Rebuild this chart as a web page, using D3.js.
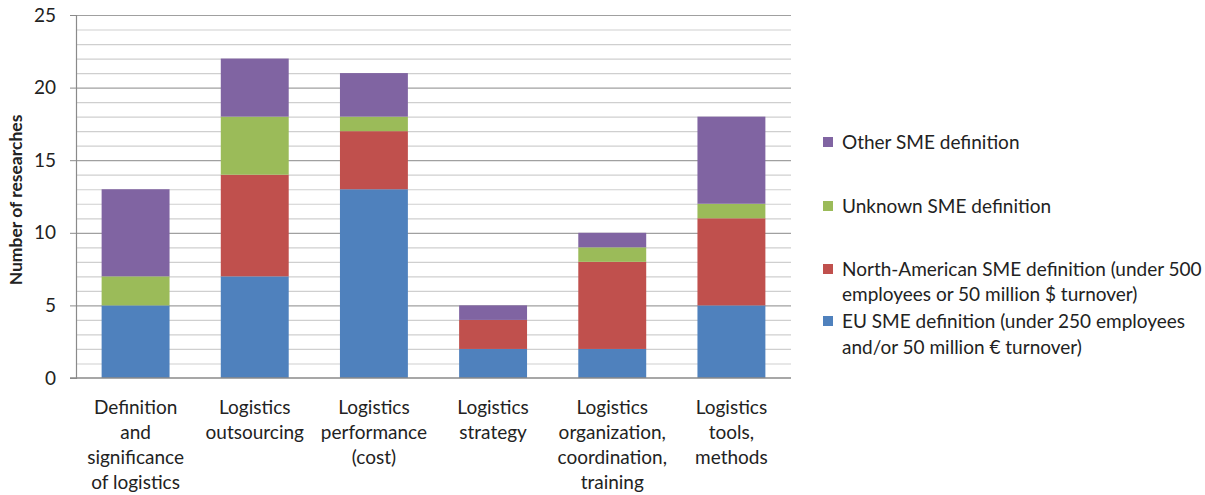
<!DOCTYPE html>
<html>
<head>
<meta charset="utf-8">
<script src="https://cdn.jsdelivr.net/npm/d3@7"></script>
<style>
  body { margin: 0; background: #fff; }
  text { font-family: Lato, "Open Sans", sans-serif; fill: #222; }
</style>
</head>
<body>
<svg id="chart" width="1205" height="495"></svg>
<script>
const categories = [
  ["Definition", "and", "significance", "of logistics"],
  ["Logistics", "outsourcing"],
  ["Logistics", "performance", "(cost)"],
  ["Logistics", "strategy"],
  ["Logistics", "organization,", "coordination,", "training"],
  ["Logistics", "tools,", "methods"]
];
const euValues      = [5, 7, 13, 2, 2, 5];
const naValues      = [0, 7, 4, 2, 6, 6];
const unknownValues = [2, 4, 1, 0, 1, 1];
const otherValues   = [6, 4, 3, 1, 1, 6];
const seriesNames = [
  ["EU SME definition (under  250 employees", "and/or 50 million € turnover)"],
  ["North-American SME definition (under 500", "employees or 50 million $ turnover)"],
  ["Unknown SME definition"],
  ["Other SME definition"]
];
const yTicks = [0, 5, 10, 15, 20, 25];

const colors = ["#4F81BD", "#C0504D", "#9BBB59", "#8064A2"];

const svg = d3.select('#chart');

const plotLeft = 76, plotRight = 791, plotTop = 15, plotBottom = 378;

const rows = categories.map((c, i) => ({
  i: i, eu: euValues[i], na: naValues[i], unk: unknownValues[i], oth: otherValues[i]
}));
const keys = ["eu", "na", "unk", "oth"];
const stacked = d3.stack().keys(keys)(rows);

const x = d3.scaleBand()
  .domain(d3.range(categories.length))
  .range([plotLeft, plotRight])
  .paddingInner(0.43)
  .paddingOuter(0.215);

const y = d3.scaleLinear().domain([0, 25]).range([plotBottom, plotTop]);

// gridlines, one per unit, darker every 5
svg.append('g')
  .selectAll('line')
  .data(d3.range(1, 26))
  .join('line')
  .attr('x1', plotLeft).attr('x2', plotRight)
  .attr('y1', d => y(d) + 0.5).attr('y2', d => y(d) + 0.5)
  .attr('stroke', d => d % 5 === 0 ? '#a0a0a0' : '#cfcfcf')
  .attr('stroke-width', 1.2);

// bars
svg.append('g')
  .selectAll('g')
  .data(stacked)
  .join('g')
  .attr('fill', (d, i) => colors[i])
  .selectAll('rect')
  .data(d => d)
  .join('rect')
  .attr('x', d => x(d.data.i))
  .attr('width', x.bandwidth())
  .attr('y', d => y(d[1]))
  .attr('height', d => y(d[0]) - y(d[1]));

// axes
const yAxis = svg.append('g')
  .attr('transform', `translate(${plotLeft},0)`)
  .call(d3.axisLeft(y).tickValues(yTicks).tickSize(6).tickPadding(14));
yAxis.select('.domain').attr('stroke', '#8a8a8a').attr('stroke-width', 1.2);
yAxis.selectAll('.tick line').attr('stroke', '#8a8a8a');
yAxis.selectAll('.tick text')
  .style('font-size', '19px')
  .style('font-family', 'Lato, "Open Sans", sans-serif')
  .attr('fill', '#222');

svg.append('line')
  .attr('x1', plotLeft - 6).attr('x2', plotRight)
  .attr('y1', plotBottom).attr('y2', plotBottom)
  .attr('stroke', '#8a8a8a').attr('stroke-width', 1.5);

// category labels
const xl = svg.append('g');
categories.forEach((lines, i) => {
  const t = xl.append('text')
    .attr('text-anchor', 'middle')
    .attr('x', x(i) + x.bandwidth() / 2)
    .style('font-size', '19px');
  lines.forEach((ln, j) => {
    t.append('tspan')
      .attr('x', x(i) + x.bandwidth() / 2)
      .attr('y', 414 + j * 25)
      .text(ln);
  });
});

// y axis title
svg.append('text')
  .attr('transform', 'translate(22,200) rotate(-90)')
  .attr('text-anchor', 'middle')
  .style('font-size', '17.5px')
  .style('font-weight', 'bold')
  .text('Number of researches');

// legend
const legendY = [[142], [206], [269, 294], [321, 347]];
const legendOrder = [3, 2, 1, 0];
const lg = svg.append('g');
legendOrder.forEach((s, k) => {
  const ys = legendY[k];
  lg.append('rect')
    .attr('x', 823).attr('y', ys[0] - 5)
    .attr('width', 10).attr('height', 10)
    .attr('fill', colors[s]);
  const t = lg.append('text').style('font-size', '19px');
  seriesNames[s].forEach((ln, j) => {
    t.append('tspan')
      .attr('x', 842)
      .attr('y', ys[j] + 7)
      .text(ln);
  });
});
</script>
</body>
</html>
